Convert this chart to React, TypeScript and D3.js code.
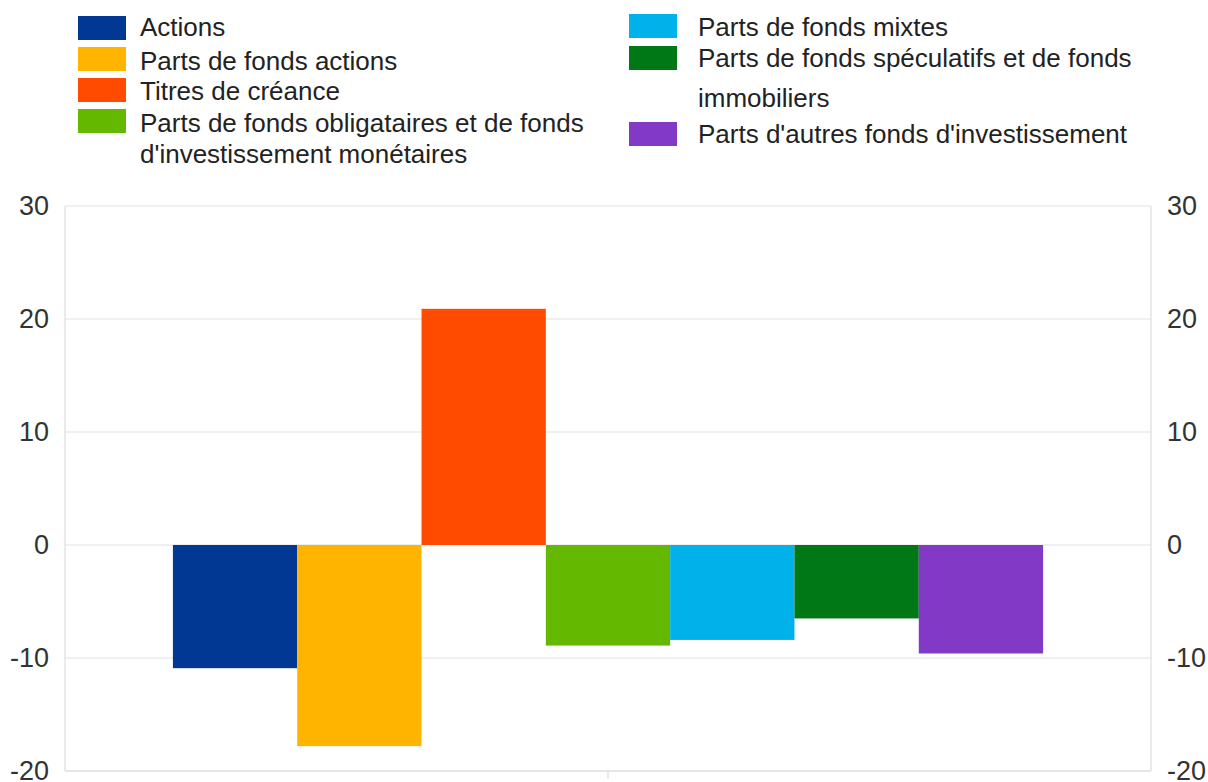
import React from "react";
import * as d3 from "d3";

const categories = ["Actions", "Parts de fonds actions", "Titres de créance", "Parts de fonds obligataires et de fonds d'investissement monétaires", "Parts de fonds mixtes", "Parts de fonds spéculatifs et de fonds immobiliers", "Parts d'autres fonds d'investissement"];
const values = [-10.9, -17.8, 20.9, -8.9, -8.4, -6.5, -9.6];
const colors = ["#003894", "#ffb400", "#ff4b00", "#65b800", "#00b1ea", "#007816", "#8139c6"];
const legendLines = [
  ["Actions"],
  ["Parts de fonds actions"],
  ["Titres de créance"],
  ["Parts de fonds obligataires et de fonds", "d'investissement monétaires"],
  ["Parts de fonds mixtes"],
  ["Parts de fonds spéculatifs et de fonds", "immobiliers"],
  ["Parts d'autres fonds d'investissement"],
];
const yTicks = [30, 20, 10, 0, -10, -20];

export default function App() {
  const W = 1208, H = 782;
  const left = 65, right = 1151, top = 206, bottom = 771;
  const y = d3.scaleLinear().domain([-20, 30]).range([bottom, top]);
  const outer = d3.scaleBand().domain(["g"]).range([left, right]).paddingOuter(0.124).paddingInner(0);
  const inner = d3.scaleBand().domain(categories).range([outer("g")!, outer("g")! + outer.bandwidth()]);
  const font = "'Liberation Sans', Arial, sans-serif";
  const legendPos = [
    { x: 78, y: 16, tx: 140, base: [36] },
    { x: 78, y: 47, tx: 140, base: [70] },
    { x: 78, y: 78, tx: 140, base: [100] },
    { x: 78, y: 109, tx: 140, base: [132, 163] },
    { x: 629, y: 14, tx: 698, base: [36] },
    { x: 629, y: 46, tx: 698, base: [67, 107] },
    { x: 629, y: 122, tx: 698, base: [143] },
  ];
  return (
    <svg width={W} height={H} style={{ position: "absolute", left: 0, top: 0, background: "#fff" }} fontFamily={font}>
      {yTicks.map((t) => (
        <g key={t}>
          <line x1={left} x2={right} y1={y(t)} y2={y(t)} stroke="#ebebeb" strokeWidth={1.5} />
          <text x={49} y={y(t)} dy="0.35em" textAnchor="end" fontSize={27} fill="#333">{t}</text>
          <text x={1167} y={y(t)} dy="0.35em" textAnchor="start" fontSize={27} fill="#333">{t}</text>
        </g>
      ))}
      <line x1={left} x2={left} y1={top} y2={bottom} stroke="#e3e3e3" strokeWidth={1.5} />
      <line x1={right} x2={right} y1={top} y2={bottom} stroke="#e3e3e3" strokeWidth={1.5} />
      <line x1={left} x2={right} y1={bottom} y2={bottom} stroke="#e3e3e3" strokeWidth={1.5} />
      <line x1={(left + right) / 2} x2={(left + right) / 2} y1={bottom} y2={bottom + 8} stroke="#e3e3e3" strokeWidth={1.5} />
      {categories.map((c, i) => (
        <rect key={c} x={inner(c)} width={inner.bandwidth()} y={Math.min(y(0), y(values[i]))} height={Math.abs(y(values[i]) - y(0))} fill={colors[i]} />
      ))}
      {legendLines.map((lines, i) => (
        <g key={i}>
          <rect x={legendPos[i].x} y={legendPos[i].y} width={48} height={24} fill={colors[i]} />
          {lines.map((l, j) => (
            <text key={j} x={legendPos[i].tx} y={legendPos[i].base[j]} fontSize={26} fill="#222">{l}</text>
          ))}
        </g>
      ))}
    </svg>
  );
}
